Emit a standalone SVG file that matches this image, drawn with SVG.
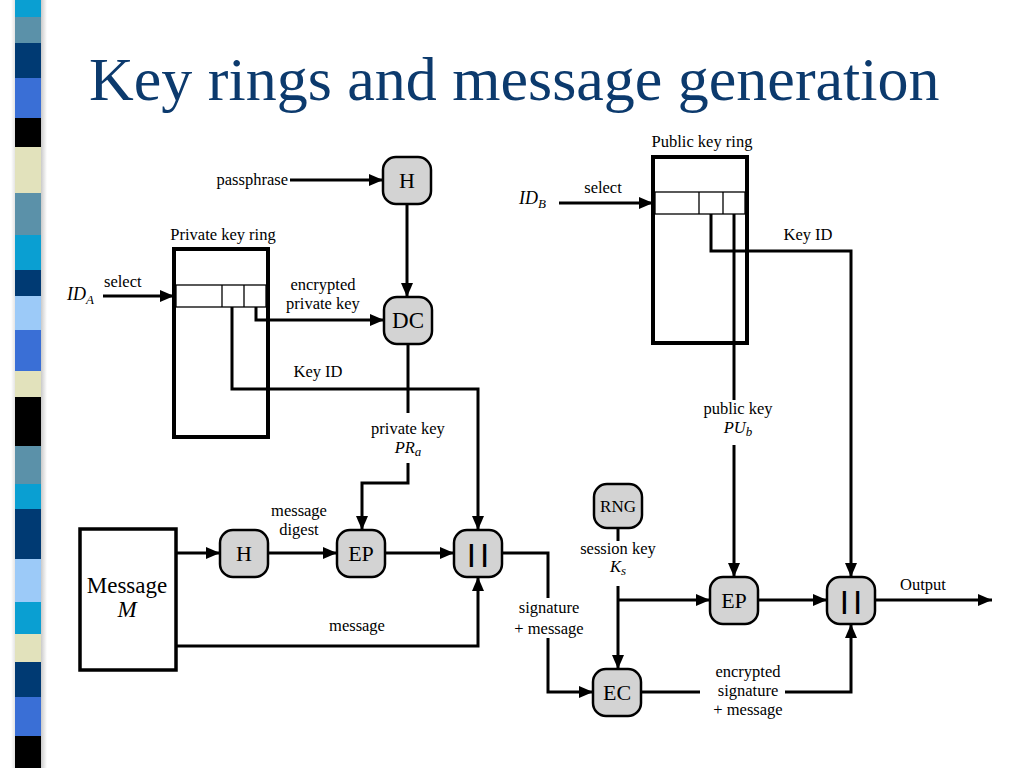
<svg xmlns="http://www.w3.org/2000/svg" width="1024" height="768" viewBox="0 0 1024 768">
<defs>
<marker id="arr" viewBox="0 0 14 12" refX="14" refY="6" markerWidth="14" markerHeight="12" markerUnits="userSpaceOnUse" orient="auto"><path d="M0,0 L14,6 L0,12 z" fill="#000"/></marker>
<linearGradient id="shade" x1="0" y1="0" x2="1" y2="0">
<stop offset="0" stop-color="#ffffff"/><stop offset="0.3" stop-color="#b8b8b8"/><stop offset="0.7" stop-color="#a0a0a0"/><stop offset="1" stop-color="#ffffff"/>
</linearGradient>
</defs>
<style>
.node rect{fill:#d3d3d3;stroke:#000;stroke-width:2.5}
.nl{font-family:'Liberation Serif','Times New Roman',serif;font-size:22px;text-anchor:middle;fill:#000}
.t{font-family:'Liberation Serif','Times New Roman',serif;font-size:16.5px;fill:#000}
.c{text-anchor:middle}
.i{font-style:italic}
.ring{fill:#fff;stroke:#000;stroke-width:4}
.row{fill:none;stroke:#000;stroke-width:1.3}
.conn path{fill:none;stroke:#000;stroke-width:3}
.a{marker-end:url(#arr)}
.cat{font-family:'Liberation Sans',Arial,sans-serif;font-size:24px;font-weight:bold;text-anchor:middle;fill:#000}
</style>
<rect width="1024" height="768" fill="#fff"/>
<g id="stripe">
<rect x="11" y="0" width="36" height="768" fill="url(#shade)"/>
<rect x="15" y="0" width="26" height="17" fill="#0a9fd2"/>
<rect x="15" y="17" width="26" height="26" fill="#5b91a9"/>
<rect x="15" y="43" width="26" height="35" fill="#003a73"/>
<rect x="15" y="78" width="26" height="40" fill="#3a6fd6"/>
<rect x="15" y="118" width="26" height="29" fill="#000"/>
<rect x="15" y="147" width="26" height="46" fill="#e2e2bc"/>
<rect x="15" y="193" width="26" height="42" fill="#5b91a9"/>
<rect x="15" y="235" width="26" height="35" fill="#0a9fd2"/>
<rect x="15" y="270" width="26" height="26" fill="#003a73"/>
<rect x="15" y="296" width="26" height="34" fill="#9ccaf8"/>
<rect x="15" y="330" width="26" height="41" fill="#3a6fd6"/>
<rect x="15" y="371" width="26" height="26" fill="#e2e2bc"/>
<rect x="15" y="397" width="26" height="49" fill="#000"/>
<rect x="15" y="446" width="26" height="38" fill="#5b91a9"/>
<rect x="15" y="484" width="26" height="25" fill="#0a9fd2"/>
<rect x="15" y="509" width="26" height="50" fill="#003a73"/>
<rect x="15" y="559" width="26" height="43" fill="#9ccaf8"/>
<rect x="15" y="602" width="26" height="32" fill="#0a9fd2"/>
<rect x="15" y="634" width="26" height="28" fill="#e2e2bc"/>
<rect x="15" y="662" width="26" height="35" fill="#003a73"/>
<rect x="15" y="697" width="26" height="39" fill="#3a6fd6"/>
<rect x="15" y="736" width="26" height="32" fill="#000"/>
</g>
<text x="89" y="100" font-family="Liberation Serif,'Times New Roman',serif" font-size="62" fill="#0c3a6d">Key rings and message generation</text>

<g id="private-key-ring">
<rect class="ring" x="174" y="249" width="94" height="188"/>
<rect class="row" x="176" y="285" width="90" height="22"/>
<path class="row" d="M222,285 V307 M244,285 V307"/>
<text class="t c" x="223" y="240">Private key ring</text>
</g>
<g id="public-key-ring">
<rect class="ring" x="653" y="157" width="94" height="186"/>
<rect class="row" x="655" y="192" width="90" height="22"/>
<path class="row" d="M699,192 V214 M723,192 V214"/>
<text class="t c" x="702" y="147">Public key ring</text>
</g>
<g id="message">
<rect x="80" y="529" width="96" height="141" fill="#fff" stroke="#000" stroke-width="3.5"/>
<text class="t c" x="127" y="593" style="font-size:23px">Message</text>
<text class="t c i" x="127" y="617" style="font-size:23px">M</text>
</g>

<g id="connectors" class="conn">
<path class="a" d="M290,180 L383,180"/>
<path class="a" d="M407,203 L407,297"/>
<path class="a" d="M103,296 L174,296"/>
<path class="a" d="M256,307 L256,320 L384,320"/>
<path class="a" d="M232,307 L232,389 L478,389 L478,530"/>
<path d="M408,344 L408,413"/>
<path class="a" d="M408,463 L408,483 L362,483 L362,530"/>
<path class="a" d="M176,553 L220,553"/>
<path class="a" d="M268,553 L337,553"/>
<path class="a" d="M385,553 L454,553"/>
<path class="a" d="M176,646 L478,646 L478,577"/>
<path d="M502,553 L548,553 L548,598"/>
<path class="a" d="M548,638 L548,692 L593,692"/>
<path class="a" d="M559,203 L653,203"/>
<path class="a" d="M711,214 L711,251 L851,251 L851,577"/>
<path d="M734,214 L734,400"/>
<path class="a" d="M734,445 L734,577"/>
<path d="M618,528 L618,541"/>
<path class="a" d="M618,586 L618,669"/>
<path class="a" d="M618,600 L710,600"/>
<path class="a" d="M758,600 L827,600"/>
<path class="a" d="M875,600 L992,600"/>
<path d="M642,692 L700,692"/>
<path class="a" d="M785,692 L851,692 L851,624"/>
</g>

<g id="node-H1" class="node"><rect x="383" y="157" width="48" height="47" rx="13"/><text class="nl" x="407" y="188">H</text></g>
<g id="node-DC" class="node"><rect x="384" y="297" width="48" height="47" rx="13"/><text class="nl" x="408" y="328" style="font-size:23px">DC</text></g>
<g id="node-H2" class="node"><rect x="220" y="530" width="48" height="47" rx="13"/><text class="nl" x="244" y="561">H</text></g>
<g id="node-EP1" class="node"><rect x="337" y="530" width="48" height="47" rx="13"/><text class="nl" x="361" y="561">EP</text></g>
<g id="node-CAT1" class="node"><rect x="454" y="530" width="48" height="47" rx="13"/><text class="cat" x="478" y="562">| |</text></g>
<g id="node-RNG" class="node"><rect x="594" y="484" width="48" height="44" rx="13"/><text class="nl" x="618" y="512" style="font-size:17px">RNG</text></g>
<g id="node-EP2" class="node"><rect x="710" y="577" width="48" height="47" rx="13"/><text class="nl" x="734" y="608">EP</text></g>
<g id="node-CAT2" class="node"><rect x="827" y="577" width="48" height="47" rx="13"/><text class="cat" x="851" y="609">| |</text></g>
<g id="node-EC" class="node"><rect x="593" y="669" width="48" height="47" rx="13"/><text class="nl" x="617" y="700">EC</text></g>

<g id="labels">
<text class="t" x="288" y="185" text-anchor="end">passphrase</text>
<text class="t i" x="67" y="300" style="font-size:18px">ID<tspan style="font-size:13px" dy="4">A</tspan></text>
<text class="t" x="104" y="287">select</text>
<text class="t c" x="323" y="290">encrypted</text>
<text class="t c" x="323" y="309">private key</text>
<text class="t c" x="318" y="377">Key ID</text>
<text class="t c" x="408" y="434">private key</text>
<text class="t c i" x="408" y="453">PR<tspan style="font-size:13px" dy="3">a</tspan></text>
<text class="t c" x="299" y="516">message</text>
<text class="t c" x="299" y="535">digest</text>
<text class="t c" x="357" y="631">message</text>
<text class="t c" x="549" y="613">signature</text>
<text class="t c" x="549" y="634">+ message</text>
<text class="t i" x="519" y="204" style="font-size:18px">ID<tspan style="font-size:13px" dy="4">B</tspan></text>
<text class="t c" x="603" y="193">select</text>
<text class="t c" x="808" y="240">Key ID</text>
<text class="t c" x="738" y="414">public key</text>
<text class="t c i" x="738" y="433">PU<tspan style="font-size:13px" dy="3">b</tspan></text>
<text class="t c" x="618" y="554">session key</text>
<text class="t c i" x="618" y="572">K<tspan style="font-size:13px" dy="3">s</tspan></text>
<text class="t c" x="923" y="590">Output</text>
<text class="t c" x="748" y="677">encrypted</text>
<text class="t c" x="748" y="696">signature</text>
<text class="t c" x="748" y="715">+ message</text>
</g>
</svg>
